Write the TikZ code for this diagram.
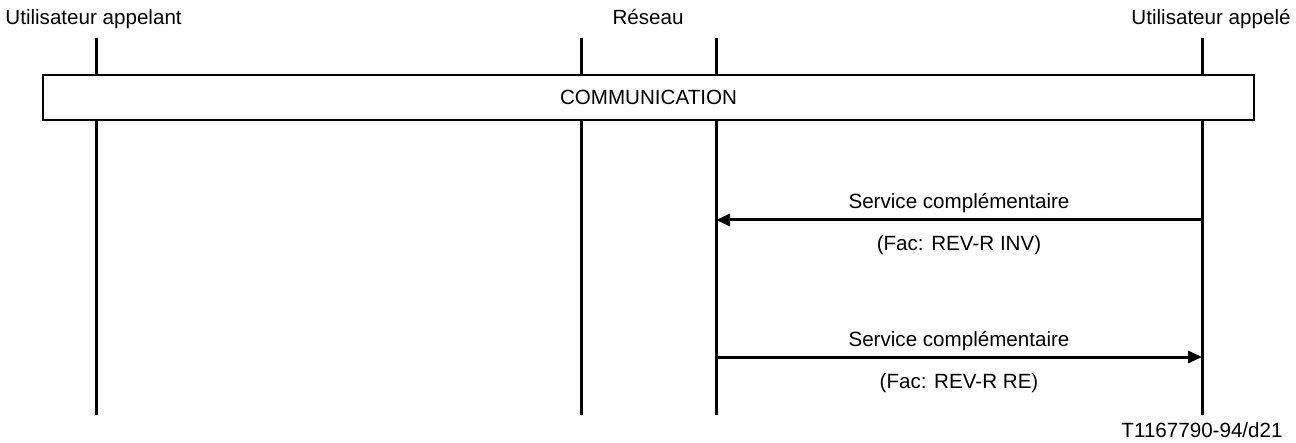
\documentclass[tikz,border=0pt]{standalone}
\usepackage{fontspec}
\setmainfont{Liberation Sans}
\usetikzlibrary{positioning,arrows.meta}

\begin{document}
\begin{tikzpicture}[x=0.5pt, y=-0.5pt, font=\fontsize{10.3}{12}\selectfont,
        life/.style={line width=1.5pt},
        msg/.style={line width=1.5pt, -{Triangle[length=7pt,width=6pt]}},
        upper/.style={anchor=base, yshift=5.5pt},
        lower/.style={anchor=base, yshift=-15.5pt},
        commbox/.style={draw, line width=1pt, fill=white, minimum width=605.5pt, minimum height=22.5pt, inner sep=0pt}]
            \useasboundingbox (0,0) rectangle (1296,443);

            \node[anchor=base west, inner sep=0pt] (appelant) at (5,25) {Utilisateur appelant};
            \node[anchor=base, inner sep=0pt] (reseau) at (648,25) {Réseau};
            \node[anchor=base east, inner sep=0pt] (appele) at (1291,25) {Utilisateur appelé};

            \coordinate (At) at (96,38);  \coordinate (Ab) at (96,415);
            \coordinate (Rt) at (581,38); \coordinate (Rb) at (581,415);
            \coordinate (St) at (716,38); \coordinate (Sb) at (716,415);
            \coordinate (Bt) at (1202,38); \coordinate (Bb) at (1202,415);

            \path[life] (At) edge (Ab) (Rt) edge (Rb) (St) edge (Sb) (Bt) edge (Bb);

            \node[commbox] (comm) at (648.5,97.5) {COMMUNICATION};

            \coordinate (S1) at (716,220); \coordinate (B1) at (1202,220);
            \coordinate (S2) at (716,357); \coordinate (B2) at (1202,357);

            \path[msg] (B1) edge node[upper] {Service complémentaire} node[lower] {(Fac: REV-R INV)} (S1);
            \path[msg] (S2) edge node[upper] {Service complémentaire} node[lower] {(Fac: REV-R RE)} (B2);

            \node[anchor=base east, inner sep=0pt] (ref) at (1283,437) {T1167790-94/d21};
        \end{tikzpicture}
\end{document}
